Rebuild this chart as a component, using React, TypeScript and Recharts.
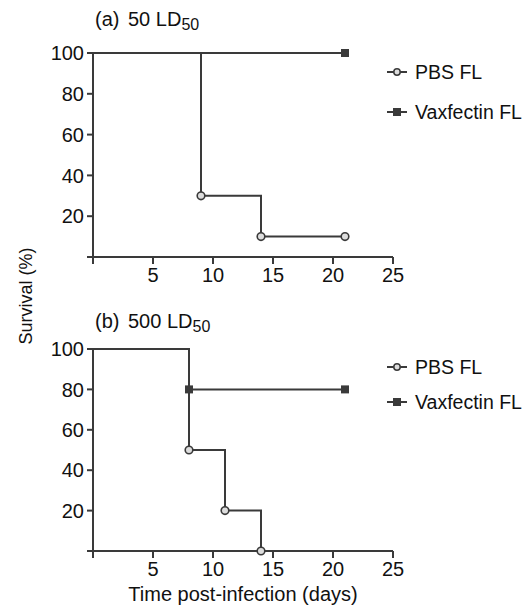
import React from "react";
import { LineChart, Line, XAxis, YAxis, Legend, Label } from "recharts";

const xTicks = [0, 5, 10, 15, 20, 25];
const yTicks = [0, 20, 40, 60, 80, 100];

const daysA_PBS = [0, 9, 14, 21];
const survA_PBS = [100, 30, 10, 10];
const daysA_Vax = [0, 21];
const survA_Vax = [100, 100];

const daysB_PBS = [0, 8, 11, 14];
const survB_PBS = [100, 50, 20, 0];
const daysB_Vax = [0, 8, 21];
const survB_Vax = [100, 80, 80];

const seriesNames = ["PBS FL", "Vaxfectin FL"];

const toRows = (days: number[], surv: number[]) =>
  days.map((d, i) => ({ day: d, surv: surv[i] }));

const INK = "#3a3a3a";
const FONT = "'Liberation Sans', Arial, Helvetica, sans-serif";

const CircleDot = (props: any) => {
  const { cx, cy, index } = props;
  if (index === 0 || cx == null) return <g key={`c${index}`} />;
  return <circle key={`c${index}`} cx={cx} cy={cy} r={3.8} fill="#ddd" stroke={INK} strokeWidth={1.6} />;
};
const SquareDot = (props: any) => {
  const { cx, cy, index } = props;
  if (index === 0 || cx == null) return <g key={`s${index}`} />;
  return <rect key={`s${index}`} x={cx - 4} y={cy - 4} width={8} height={8} fill={INK} />;
};

const makeLegend = (gap: number) => () => (
  <div style={{ fontFamily: FONT, fontSize: 19.5, color: "#111", whiteSpace: "nowrap" }}>
    <div style={{ display: "flex", alignItems: "center", height: 20, marginBottom: gap - 20 }}>
      <svg width={30} height={20}>
        <line x1={2} y1={10} x2={22} y2={10} stroke={INK} strokeWidth={2} />
        <circle cx={12} cy={10} r={3.2} fill="#ddd" stroke={INK} strokeWidth={1.5} />
      </svg>
      <span>{seriesNames[0]}</span>
    </div>
    <div style={{ display: "flex", alignItems: "center", height: 20 }}>
      <svg width={30} height={20}>
        <line x1={2} y1={10} x2={22} y2={10} stroke={INK} strokeWidth={2} />
        <rect x={8} y={6} width={8} height={8} fill={INK} />
      </svg>
      <span>{seriesNames[1]}</span>
    </div>
  </div>
);

const hideZero = (v: number) => (v === 0 ? "" : String(v));

function Panel(props: {
  pbs: { day: number; surv: number }[];
  vax: { day: number; surv: number }[];
  height: number;
  top: number;
  bottom: number;
  legendTop: number;
  legendGap: number;
  xLabel?: string;
  xAxisHeight: number;
}) {
  const { pbs, vax, height, top, bottom, legendTop, legendGap, xLabel, xAxisHeight } = props;
  const LegendC = makeLegend(legendGap);
  return (
    <LineChart width={530} height={height} margin={{ top, right: 137, left: 0, bottom }}>
      <XAxis
        type="number"
        dataKey="day"
        domain={[0, 25]}
        ticks={xTicks}
        tickFormatter={hideZero}
        stroke={INK}
        strokeWidth={2}
        tickSize={7}
        tickMargin={4}
        height={xAxisHeight}
        tick={{ fill: "#111", fontSize: 20, fontFamily: FONT }}
        allowDuplicatedCategory={false}
      >
        {xLabel ? (
          <Label value={xLabel} position="insideBottom" offset={0} style={{ fill: "#111", fontSize: 20, fontFamily: FONT }} />
        ) : null}
      </XAxis>
      <YAxis
        type="number"
        domain={[0, 100]}
        ticks={yTicks}
        tickFormatter={hideZero}
        stroke={INK}
        strokeWidth={2}
        tickSize={6}
        tickMargin={3}
        width={93}
        tick={{ fill: "#111", fontSize: 20, fontFamily: FONT }}
      />
      <Line
        data={vax}
        dataKey="surv"
        type="stepAfter"
        stroke={INK}
        strokeWidth={2}
        dot={SquareDot}
        activeDot={false}
        isAnimationActive={false}
        name={seriesNames[1]}
      />
      <Line
        data={pbs}
        dataKey="surv"
        type="stepAfter"
        stroke={INK}
        strokeWidth={2}
        dot={CircleDot}
        activeDot={false}
        isAnimationActive={false}
        name={seriesNames[0]}
      />
      <Legend
        layout="horizontal"
        verticalAlign="middle"
        align="center"
        content={<LegendC />}
        wrapperStyle={{ position: "absolute", left: 385, top: legendTop, width: 145 }}
      />
    </LineChart>
  );
}

export default function App() {
  return (
    <div style={{ position: "absolute", left: 0, top: 0, width: 530, height: 611, background: "#fff", fontFamily: FONT }}>
      <div style={{ position: "absolute", left: 0, top: 0 }}>
        <Panel
          pbs={toRows(daysA_PBS, survA_PBS)}
          vax={toRows(daysA_Vax, survA_Vax)}
          height={300}
          top={53}
          bottom={13}
          legendTop={62}
          legendGap={40}
          xAxisHeight={30}
        />
      </div>
      <div style={{ position: "absolute", left: 0, top: 300 }}>
        <Panel
          pbs={toRows(daysB_PBS, survB_PBS)}
          vax={toRows(daysB_Vax, survB_Vax)}
          height={311}
          top={49}
          bottom={10}
          legendTop={57}
          legendGap={35}
          xAxisHeight={50}
          xLabel="Time post-infection (days)"
        />
      </div>
      <svg width={530} height={611} style={{ position: "absolute", left: 0, top: 0, pointerEvents: "none" }}>
        <text y={26} fontSize={20} fill="#111" fontFamily={FONT}>
          <tspan x={95}>(a)</tspan>
          <tspan x={128}>50 LD</tspan>
          <tspan fontSize={16} dy={4}>50</tspan>
        </text>
        <text y={328} fontSize={20} fill="#111" fontFamily={FONT}>
          <tspan x={95}>(b)</tspan>
          <tspan x={128}>500 LD</tspan>
          <tspan fontSize={16} dy={4}>50</tspan>
        </text>
        <text
          x={0}
          y={0}
          transform="translate(32,296) rotate(-90)"
          textAnchor="middle"
          fontSize={18}
          fill="#111"
          fontFamily={FONT}
        >
          Survival (%)
        </text>
      </svg>
    </div>
  );
}
